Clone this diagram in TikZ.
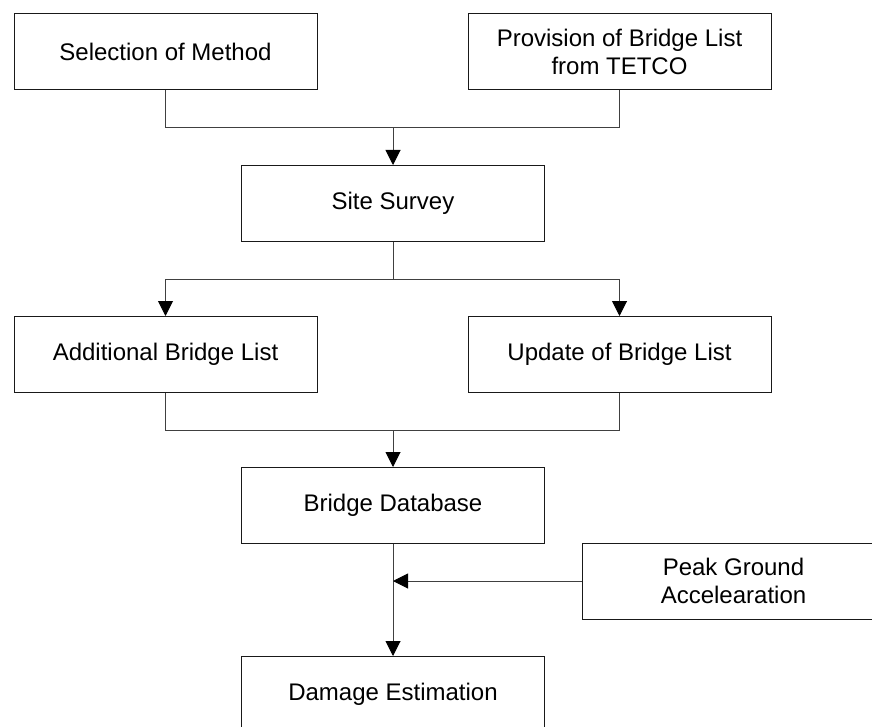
\documentclass[tikz,border=0pt]{standalone}
\usepackage{fontspec}
\setmainfont{Liberation Sans}
\usetikzlibrary{arrows.meta}
\begin{document}
\begin{tikzpicture}[x=1pt,y=-1pt,
  box/.style={draw=black!90, line width=1pt, minimum width=303pt, minimum height=76pt,
    inner sep=0pt, align=center, font=\fontsize{24}{28}\selectfont},
  conn/.style={draw=black!75, line width=1pt},
  arr/.style={conn, -{Triangle[length=15pt,width=15pt,color=black]}}]
\useasboundingbox (0,0) rectangle (872,727);
\clip (0,0) rectangle (872,727);
\node[box] (sel) at (165.5,51.5) {Selection of Method};
\node[box] (prov) at (619.5,52) {Provision of Bridge List\\from TETCO};
\node[box] (site) at (393,203.5) {Site Survey};
\node[box] (add) at (165.5,354.5) {Additional Bridge List};
\node[box] (upd) at (619.5,354.5) {Update of Bridge List};
\node[box] (db) at (393,505.5) {Bridge Database};
\node[box] (pga) at (733.5,581) {Peak Ground\\Accelearation};
\node[box] (dmg) at (393,694.5) {Damage Estimation};
\coordinate (b1) at (393,128);
\coordinate (b2) at (393,279);
\coordinate (b3) at (393,430);
\coordinate (j) at (393,581);
\draw[conn] (sel.south) -- (sel.south |- b1) -- (prov.south |- b1) -- (prov.south);
\draw[arr] (b1) -- (site.north);
\draw[conn] (site.south) -- (b2);
\draw[arr] (b2) -| (add.north);
\draw[arr] (b2) -| (upd.north);
\draw[conn] (add.south) -- (add.south |- b3) -- (upd.south |- b3) -- (upd.south);
\draw[arr] (b3) -- (db.north);
\draw[arr] (db.south) -- (dmg.north);
\draw[arr] (pga.west) -- (j);
\end{tikzpicture}
\end{document}
